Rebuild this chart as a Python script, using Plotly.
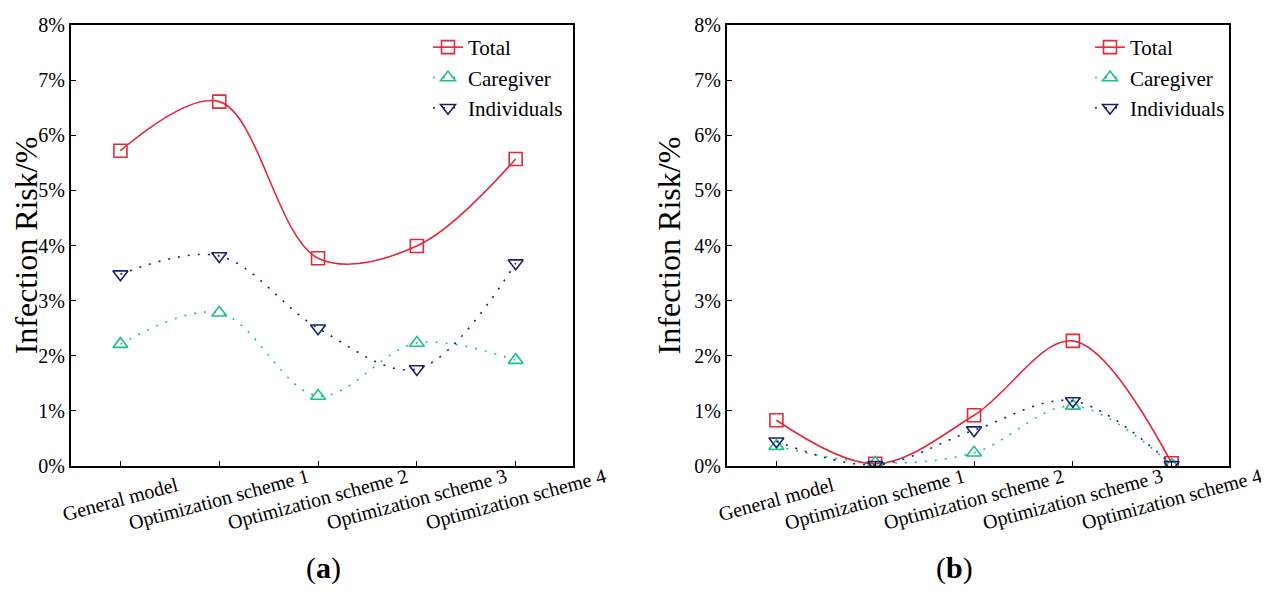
import plotly.graph_objects as go

categories = ["General model", "Optimization scheme 1", "Optimization scheme 2",
              "Optimization scheme 3", "Optimization scheme 4"]
y_ticks = [0, 1, 2, 3, 4, 5, 6, 7, 8]
y_tick_labels = ["0%", "1%", "2%", "3%", "4%", "5%", "6%", "7%", "8%"]

# panel (a) values, in %
a_total = [5.72, 6.61, 3.77, 3.99, 5.57]
a_caregiver = [2.21, 2.78, 1.27, 2.23, 1.92]
a_individuals = [3.48, 3.81, 2.50, 1.76, 3.68]

# panel (b) values, in %
b_total = [0.83, 0.04, 0.92, 2.27, 0.05]
b_caregiver = [0.36, 0.06, 0.24, 1.09, 0.02]
b_individuals = [0.45, 0.02, 0.65, 1.18, 0.02]

RED = "#E3283A"
GREEN = "#1EBF8C"
NAVY = "#1B1F6E"
FONT = "Liberation Serif"

series_styles = [
    ("Total", RED, "square-open", "solid"),
    ("Caregiver", GREEN, "triangle-up-open", "2px,8px"),
    ("Individuals", NAVY, "triangle-down-open", "2px,8px"),
]

# page body adds an 8px margin; the figure is sized to fill the rest of the window
OFF = 8
W, H = 1269 - OFF, 603 - OFF


def px(x):
    return (x - OFF) / W


def py(y):
    return (H - (y - OFF)) / H


fig = go.Figure()
x_idx = list(range(len(categories)))

panels = [
    ("x", "y", "legend", [a_total, a_caregiver, a_individuals]),
    ("x2", "y2", "legend2", [b_total, b_caregiver, b_individuals]),
]
for xa, ya, leg, vals in panels:
    for (name, color, sym, dash), v in zip(series_styles, vals):
        fig.add_trace(go.Scatter(
            x=x_idx, y=v, name=name, xaxis=xa, yaxis=ya, legend=leg,
            mode="lines+markers",
            line=dict(color=color, width=1.6, dash=dash, shape="spline", smoothing=1.0),
            marker=dict(symbol=sym, size=13, color=color, line=dict(width=1.6, color=color)),
        ))

left_dom = [px(71), px(573)]
right_dom = [px(727), px(1229)]
y_dom = [py(466), py(25)]

axis_common = dict(showgrid=False, zeroline=False, showline=True, linecolor="black",
                   linewidth=2, mirror=True, ticks="inside", ticklen=5, tickwidth=1.2,
                   tickcolor="black", automargin=False)

xaxis_common = dict(axis_common, range=[-0.5, 4.58], tickvals=x_idx, showticklabels=False)
yaxis_common = dict(axis_common, range=[0, 8], tickvals=y_ticks, ticktext=y_tick_labels,
                    tickfont=dict(family=FONT, size=20, color="black"),
                    title=dict(text="Infection Risk/%", font=dict(family=FONT, size=32, color="black"),
                               standoff=4))

legend_common = dict(font=dict(family=FONT, size=21, color="black"), bgcolor="rgba(0,0,0,0)",
                     borderwidth=0, xanchor="left", yanchor="top", tracegroupgap=0,
                     itemwidth=30)

fig.update_layout(
    width=W, height=H,
    margin=dict(l=0, r=0, t=0, b=0),
    paper_bgcolor="white", plot_bgcolor="white",
    xaxis=dict(xaxis_common, domain=left_dom, anchor="y"),
    yaxis=dict(yaxis_common, domain=y_dom, anchor="x"),
    xaxis2=dict(xaxis_common, domain=right_dom, anchor="y2"),
    yaxis2=dict(yaxis_common, domain=y_dom, anchor="x2"),
    legend=dict(legend_common, x=px(428), y=py(27)),
    legend2=dict(legend_common, x=px(1090), y=py(27)),
    showlegend=True,
)

annotations = []
for xa in ("x", "x2"):
    for i, c in enumerate(categories):
        annotations.append(dict(
            text=c, x=i, xref=xa, y=py(499), yref="paper",
            xanchor="center", yanchor="middle", textangle=-15, showarrow=False,
            font=dict(family=FONT, size=20, color="black"),
        ))
annotations.append(dict(text="(<b>a</b>)", x=px(304), y=py(587), xref="paper", yref="paper",
                        showarrow=False, font=dict(family=FONT, size=30, color="black")))
annotations.append(dict(text="(<b>b</b>)", x=px(975), y=py(587), xref="paper", yref="paper",
                        showarrow=False, font=dict(family=FONT, size=30, color="black")))
fig.update_layout(annotations=annotations)

fig.write_html("out.html")
